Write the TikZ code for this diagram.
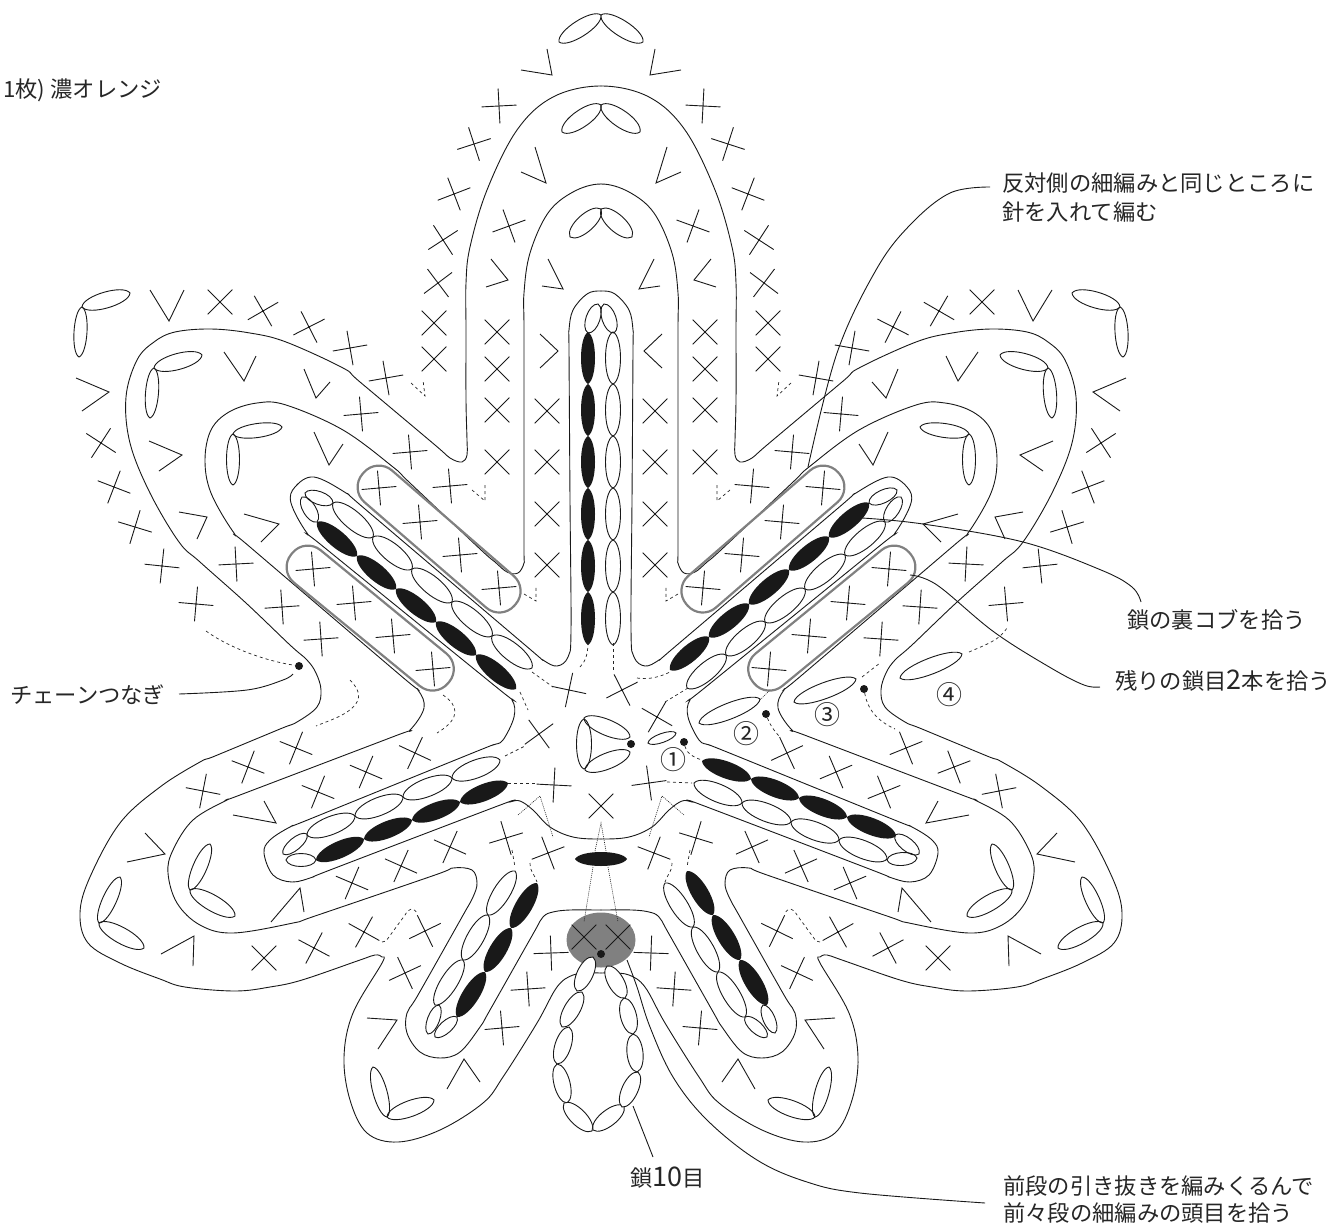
\documentclass[tikz,border=0pt]{standalone}
\usepackage{fontspec}
\setmainfont{Noto Sans CJK JP}
\tikzset{
  ln/.style={line width=0.9pt,black!90},
  dsh/.style={line width=0.7pt,black!85,dash pattern=on 3pt off 3pt},
  dtt/.style={line width=0.6pt,black!85,dash pattern=on 1pt off 1pt},
  capsule/.style={line width=2.2pt,draw=black!50,rounded corners=20pt},
  lab/.style={anchor=base west,inner sep=0pt,font=\fontsize{22.3}{26}\selectfont,black!85},
  num/.style={inner sep=0pt,font=\fontsize{26}{28}\selectfont,black!85},
  dotmark/.style={circle,fill=black!90,inner sep=0pt,minimum size=8pt},
}
\newcommand\cs[3]{\draw[ln,shift={(#1,#2)},rotate=#3] (-17.5,0)--(17.5,0) (0,-17.5)--(0,17.5);}
\newcommand\vs[6]{\draw[ln,miter limit=10] (#1,#2)--(#3,#4)--(#5,#6);}
% generic lens: style, sharpness, x1,y1,x2,y2,halfwidth
\newcommand\lensbody[7]{%
  \pgfmathsetmacro\LLen{veclen(#5-#3,#6-#4)}%
  \pgfmathsetmacro\AAng{atan2(#4-#6,#5-#3)}%
  \pgfmathsetmacro\CCa{#2*\LLen}%
  \pgfmathsetmacro\CCb{(1-#2)*\LLen}%
  \pgfmathsetmacro\HHw{1.333*#7}%
  \path[#1,shift={(#3,#4)},rotate=\AAng] (0,0) .. controls (\CCa,\HHw) and (\CCb,\HHw) .. (\LLen,0) .. controls (\CCb,-\HHw) and (\CCa,-\HHw) .. (0,0) -- cycle;}
\newcommand\ol[5]{\lensbody{draw,ln}{0.08}{#1}{#2}{#3}{#4}{#5}}
\newcommand\wl[5]{\lensbody{draw,ln,fill=white}{0.08}{#1}{#2}{#3}{#4}{#5}}
\newcommand\fl[5]{\lensbody{fill=black!90}{0.1}{#1}{#2}{#3}{#4}{#5}}
\newcommand\halfart{%
 % contours, cut at the axis so that both halves meet
 \begin{scope}
 \clip (0,0) rectangle (601.3,1225);
 \draw[ln] plot[smooth,tension=0.6] coordinates {(649,97)(601,86)(553,97)(517,130)(487,190)(470,247)(466,283)(466,330)(466,400)(467,440)(467,455)(462,462)(450,458)(435,445)(360,382)(343,368)(286,342)(250,333)(211,329)(175,332)(154,342)(137,360)(126,397)(130,443)(150,493)(179,542)(200,562)(246,603)(290,645)(307,660)(316,673)(321,690)(317,707)(297,722)(280,729)(215,756)(200,762)(160,787)(120,823)(90,877)(80,913)(88,943)(120,963)(160,979)(185,987)(235,991)(270,987)(302,980)(360,960)(375,955)(382,957)(382,963)(353,1013)(344,1057)(350,1100)(367,1133)(398,1142)(440,1130)(483,1103)(503,1077)(537,1023)(557,987)(573,975)(590,973)(601,973)(612,973)};
 \draw[ln] plot[smooth,tension=0.6] coordinates {(629,192)(601,184)(573,192)(548,213)(530,253)(524,293)(524,330)(524,450)(524,550)(524,563)(518,573)(507,572)(495,562)(480,549)(410,483)(393,467)(343,430)(286,405)(257,403)(229,412)(211,430)(205,460)(211,493)(234,533)(250,547)(400,675)(418,690)(424,708)(410,730)(395,736)(240,795)(227,800)(193,820)(173,850)(168,873)(177,903)(200,925)(233,933)(293,923)(315,916)(435,875)(453,868)(472,870)(477,883)(473,897)(462,917)(418,995)(407,1013)(407,1033)(420,1052)(440,1058)(460,1052)(480,1027)(490,1010)(533,934)(543,917)(553,912)(570,910)(601,910)(632,910)};
 \draw[ln] plot[smooth,tension=0.6] coordinates {(615,294)(601,291)(587,294)(573,310)(569,330)(569,350)(570,500)(571,630)(568,657)(557,666)(543,660)(525,645)(365,509)(346,493)(314,477)(295,487)(291,503)(307,533)(325,548)(495,686)(512,700)(514,717)(503,740)(493,745)(475,752)(310,819)(290,827)(270,840)(264,853)(273,875)(292,882)(313,877)(330,870)(495,807)(510,802)(520,801)(533,810)(550,827)(573,837)(601,839)(629,837)};
 \end{scope}
 % capsules
 \begin{scope}[shift={(379,487)},rotate=-40.9]\draw[capsule] (-21,-21) rectangle (180,21);\end{scope}
 \begin{scope}[shift={(308,567)},rotate=-39.4]\draw[capsule] (-21,-21) rectangle (182,21);\end{scope}
 % crosses
 \cs{220}{302}{45}\cs{263}{311}{30}\cs{309}{327}{27}\cs{350}{348}{10}\cs{386}{378}{10}
 \cs{361}{414}{5}\cs{410}{452}{5}\cs{450}{486}{5}
 \cs{101}{443}{57}\cs{114}{487}{-21}\cs{135}{527}{-17}\cs{162}{566}{-6}\cs{196}{604}{-5}
 \cs{236}{564}{3}\cs{282}{607}{4}\cs{321}{639}{4}
 \cs{379}{488}{5}\cs{420}{522}{5}\cs{460}{555}{5}\cs{499}{588}{5}
 \cs{313}{569}{5}\cs{354}{603}{5}\cs{393}{636}{5}\cs{433}{669}{5}
 \cs{434}{323}{45}\cs{434}{359}{45}\cs{438}{283}{37}
 \cs{497}{332}{45}\cs{497}{369}{45}\cs{497}{410}{45}\cs{497}{462}{45}
 \cs{547}{411}{45}\cs{547}{462}{45}\cs{547}{514}{45}\cs{547}{565}{45}
 \cs{499}{106}{3}\cs{474}{144}{18}\cs{454}{194}{21}\cs{443}{240}{33}\cs{509}{226}{20}
 \cs{296}{748}{-22}\cs{248}{767}{-21}\cs{203}{791}{-11}\cs{318}{792}{-22}\cs{366}{772}{-23}\cs{415}{753}{-25}
 \cs{352}{883}{-23}\cs{401}{866}{-24}\cs{450}{847}{-24}
 \cs{506}{838}{17}\cs{548}{853}{21}
 \cs{264}{958}{45}\cs{314}{948}{-28}\cs{364}{932}{-29}\cs{425}{931}{26}\cs{405}{973}{25}
 \cs{551}{953}{2}\cs{528}{989}{4}\cs{502}{1028}{5}
 % Vs
 \vs{547}{49}{552}{75}{521}{70}\vs{535}{147}{546}{183}{521}{172}
 \vs{491}{259}{508}{280}{486}{287}\vs{548}{259}{563}{289}{542}{286}\vs{540}{334}{558}{351}{540}{368}
 \vs{150}{290}{169}{321}{184}{290}\vs{76}{378}{109}{392}{82}{411}
 \vs{224}{352}{244}{381}{256}{356}\vs{304}{369}{316}{398}{330}{382}
 \vs{149}{441}{182}{455}{159}{471}\vs{314}{432}{329}{465}{343}{444}
 \vs{179}{512}{207}{517}{197}{539}\vs{244}{514}{279}{524}{261}{542}
 \vs{145}{833}{165}{854}{127}{862}\vs{271}{922}{300}{888}{304}{912}\vs{161}{954}{194}{936}{193}{966}
 \vs{264}{801}{276}{823}{233}{815}
 \vs{367}{1018}{397}{1020}{378}{1049}\vs{447}{1089}{464}{1059}{480}{1082}
 % tip loops
 \ol{601}{15}{559}{42}{8}\ol{601}{105}{562}{132}{8.5}\ol{601}{209}{570}{237}{8.5}
 \ol{82}{307}{130}{293}{8}\ol{82}{307}{79}{357}{6.5}
 \ol{154}{368}{202}{355}{8}\ol{154}{368}{150}{418}{6.5}
 \ol{233}{434}{282}{427}{7}\ol{233}{434}{233}{485}{6.5}
 \ol{190}{890}{210}{844}{7}\ol{190}{890}{235}{916}{8}
 \ol{99}{923}{120}{877}{7}\ol{99}{923}{144}{948}{8}
 \ol{387}{1117}{373}{1067}{7}\ol{387}{1117}{434}{1100}{8}
 % small dashed ticks
 \draw[dsh] (411,383)--(425,396)--(423,380);
 \draw[dsh] (472,490)--(485,501)--(485,485);
 \draw[dsh] (524,594)--(536,601)--(536,586);
 \draw[dtt] (518,815)--(540,796)--(553,837);
 \draw[dsh] (512,850)--(515,867);
 \draw[dsh] (530,863) .. controls (529,870) and (535,875) .. (537,882);
 \draw[dsh] (382,942) -- (386,941) -- (405,915) .. controls (409,908) and (413,907) .. (417,913);
}
\begin{document}
\begin{tikzpicture}[x=1pt,y=-1pt]
\useasboundingbox (0,0) rectangle (1337,1225);
\halfart
\begin{scope}[shift={(1202,0)},xscale=-1]\halfart\end{scope}
% centre chain
\foreach \a/\b in {332/384,384/436,436/488,488/540,540/592,592/645}{\fl{588}{\a}{588}{\b}{7}\ol{613}{\a}{613}{\b}{7.5}}
\ol{598}{304}{588}{333}{7}\ol{604}{304}{614}{333}{7}
% upper left chain
\foreach \xa/\ya/\xb/\yb in {317/522/357/556,357/556/396/589,396/589/436/622,436/622/476/655,476/655/516/689}{\fl{\xa}{\ya}{\xb}{\yb}{8.5}}
\foreach \xa/\ya/\xb/\yb in {333/503/373/537,373/537/412/569,412/569/452/602,452/602/492/636,492/636/532/668}{\ol{\xa}{\ya}{\xb}{\yb}{9}}
\ol{305}{493}{333}{503}{6.5}\ol{302}{497}{317}{522}{6.5}
% upper right chain
\foreach \xa/\ya/\xb/\yb in {670/670/709/637,709/637/749/604,749/604/789/570,789/570/829/537,829/537/869/503}{\fl{\xa}{\ya}{\xb}{\yb}{8.5}}
\foreach \xa/\ya/\xb/\yb in {687/688/726/655,726/655/765/622,765/622/805/589,805/589/845/555,845/555/885/522}{\ol{\xa}{\ya}{\xb}{\yb}{9}}
\ol{869}{503}{897}{490}{6.5}\ol{885}{522}{901}{497}{6.5}
% lower left chain
\foreach \xa/\ya/\xb/\yb in {316/860/364/839,364/839/412/820,412/820/460/802,460/802/508/783}{\fl{\xa}{\ya}{\xb}{\yb}{8.5}}
\foreach \xa/\ya/\xb/\yb in {307/835/355/816,355/816/403/797,403/797/452/778,452/778/500/760}{\ol{\xa}{\ya}{\xb}{\yb}{9}}
\ol{283}{854}{307}{834}{6}\ol{286}{860}{316}{860}{6.5}
% lower right chain
\foreach \xa/\ya/\xb/\yb in {702/761/751/779,751/779/799/798,799/798/847/817,847/817/896/836}{\fl{\xa}{\ya}{\xb}{\yb}{8.5}}
\foreach \xa/\ya/\xb/\yb in {694/783/742/803,742/803/791/822,791/822/839/840,839/840/887/859}{\ol{\xa}{\ya}{\xb}{\yb}{9}}
\ol{895}{835}{919}{854}{6.5}\ol{887}{860}{917}{858}{6.5}
% bottom left chain
\foreach \xa/\ya/\xb/\yb in {457/1017/485/972,485/972/511/928,511/928/537/883}{\fl{\xa}{\ya}{\xb}{\yb}{8.5}}
\foreach \xa/\ya/\xb/\yb in {435/1005/463/960,463/960/488/915,488/915/515/871}{\ol{\xa}{\ya}{\xb}{\yb}{8.5}}
\ol{439}{1005}{428}{1034}{6}\ol{457}{1017}{435}{1037}{6}
% bottom right chain
\foreach \xa/\ya/\xb/\yb in {687/871/713/915,713/915/740/960,740/960/767/1005}{\fl{\xa}{\ya}{\xb}{\yb}{8.5}}
\foreach \xa/\ya/\xb/\yb in {665/883/693/927,693/927/718/972,718/972/745/1017}{\ol{\xa}{\ya}{\xb}{\yb}{8.5}}
\ol{763}{1005}{775}{1033}{6}\ol{745}{1017}{767}{1037}{6}
% centre crosses
\cs{569}{690}{-12}\cs{622}{690}{27}\cs{539}{734}{36}\cs{657}{717}{-30}\cs{554}{785}{-3}\cs{649}{783}{8}\cs{601}{806}{45}
% gray patch
\fill[black!50] (601,940) ellipse [x radius=34.5pt,y radius=27.5pt];
\cs{584}{937}{45}\cs{618}{937}{45}
\fl{575}{859}{627}{859}{7}
\draw[dtt] (595,851)--(601,823)--(606,851);
\draw[dtt] (593,867)--(584,922);
\draw[dtt] (608,867)--(618,922);
\node[dotmark] (d0) at (601,954) {};
% ten chains
\wl{593}{957}{577}{991}{8}\wl{582}{992}{562}{1027}{8}\wl{569}{1027}{557}{1064}{8}\wl{557}{1064}{567}{1103}{8}\wl{564}{1103}{592}{1131}{8}
\wl{593}{1130}{624}{1106}{8}\wl{622}{1107}{638}{1072}{8}\wl{637}{1072}{633}{1034}{8}\wl{633}{1034}{624}{998}{8}\wl{625}{998}{607}{966}{8}
% triangle
\ol{584}{719}{584}{769}{7.5}\ol{584}{718}{630}{737}{8}\ol{585}{770}{630}{752}{8}
% loops 1-4
\ol{648}{743}{676}{733}{4.5}\ol{699}{723}{760}{699}{8}\ol{794}{702}{856}{679}{8}\ol{900}{678}{962}{654}{8}
% dots
\node[dotmark] (d1) at (631,744) {};
\node[dotmark] (d2) at (684,742) {};
\node[dotmark] (d3) at (766,714) {};
\node[dotmark] (d4) at (864,689) {};
\node[dotmark] (d5) at (299,666) {};
% numbers
\node[num] (n1) at (673,760) {①};
\node[num] (n2) at (746,734) {②};
\node[num] (n3) at (827,715) {③};
\node[num] (n4) at (949,695) {④};
% dashed connectors
\draw[dsh] (206,631) .. controls (225,645) and (260,660) .. (d5);
\draw[dsh] (350,680) .. controls (362,692) and (362,702) .. (347,712) .. controls (338,718) and (328,721) .. (316,726);
\draw[dsh] (443,695) .. controls (458,705) and (462,718) .. (437,733);
\draw[dsh] (520,692)--(528,710);
\draw[dsh] (505,756)--(525,746);
\draw[dsh] (508,783)--(537,783);
\draw[dsh] (532,672)--(553,687);
\draw[dsh] (588,642) .. controls (588,655) and (585,662) .. (580,667);
\draw[dsh] (613,643)--(613,670);
\draw[dsh] (637,678) .. controls (648,680) and (660,677) .. (670,672);
\draw[dsh] (665,702)--(688,688);
\draw[dsh] (d2) .. controls (686,752) and (692,757) .. (702,760);
\draw[dsh] (667,782)--(692,783);
\draw[dsh] (862,677)--(880,663);
\draw[dtt] (760,700)--(770,690);
\draw[dsh] (d3) .. controls (770,725) and (775,732) .. (780,737);
\draw[dsh] (d4) .. controls (868,712) and (880,722) .. (895,729);
\draw[dsh] (969,652) .. controls (985,645) and (1000,640) .. (1007,628);
% labels
\node[lab] (t1) at (3,98) {1枚) 濃オレンジ};
\node[lab] (t2) at (1002,191) {反対側の細編みと同じところに};
\node[lab] (t3) at (1002,220) {針を入れて編む};
\node[lab] (t4) at (1127,628) {鎖の裏コブを拾う};
\node[lab] (t5) at (1115,689) {残りの鎖目{\fontsize{27}{26}\selectfont 2}本を拾う};
\node[lab] (t6) at (10,703) {チェーンつなぎ};
\node[lab] (t7) at (630,1186) {鎖{\fontsize{27}{26}\selectfont 10}目};
\node[lab] (t8) at (1003,1194) {前段の引き抜きを編みくるんで};
\node[lab] (t9) at (1003,1221) {前々段の細編みの頭目を拾う};
% leaders
\draw[ln] plot[smooth,tension=0.6] coordinates {(990,187)(950,193)(910,225)(876,270)(837,353)(808,467)};
\draw[ln] plot[smooth,tension=0.6] coordinates {(862,518)(923,524)(1023,542)(1101,570)(1132,587)(1141,602)};
\draw[ln] plot[smooth,tension=0.6] coordinates {(910,575)(937,585)(994,632)(1051,668)(1084,685)(1100,687)};
\draw[ln] plot[smooth,tension=0.6] coordinates {(179,694)(247,690)(283,680)(293,674)};
\draw[ln] (633,1106)--(653,1157);
\draw[ln] plot[smooth,tension=0.6] coordinates {(627,960)(637,987)(650,1027)(673,1077)(707,1120)(757,1160)(807,1182)(860,1193)(985,1203)};
\end{tikzpicture}
\end{document}
